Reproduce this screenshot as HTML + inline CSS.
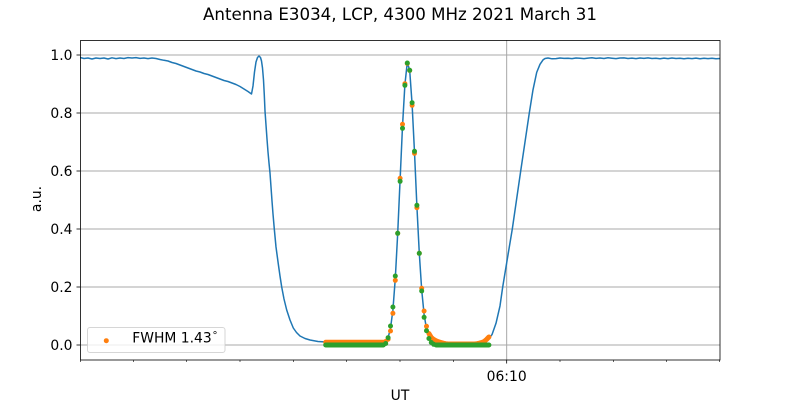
<!DOCTYPE html>
<html>
<head>
<meta charset="utf-8">
<style>
html,body{margin:0;padding:0;background:#fff;}
svg{display:block;}
text{font-family:"DejaVu Sans","Liberation Sans",sans-serif;fill:#000;}
</style>
</head>
<body>
<svg width="800" height="400" viewBox="0 0 800 400" xmlns="http://www.w3.org/2000/svg">
<rect x="0" y="0" width="800" height="400" fill="#fff"/>
<defs><clipPath id="ax"><rect x="80" y="40" width="640" height="320"/></clipPath></defs>

<!-- title -->
<text x="400" y="20" font-size="16.67" text-anchor="middle">Antenna E3034, LCP, 4300 MHz 2021 March 31</text>

<!-- grid -->
<g stroke="#a8a8a8" stroke-width="1">
<line x1="80" y1="345" x2="720" y2="345"/>
<line x1="80" y1="287" x2="720" y2="287"/>
<line x1="80" y1="229" x2="720" y2="229"/>
<line x1="80" y1="171" x2="720" y2="171"/>
<line x1="80" y1="113" x2="720" y2="113"/>
<line x1="80" y1="55" x2="720" y2="55"/>
<line x1="506.67" y1="40" x2="506.67" y2="360"/>
</g>

<g clip-path="url(#ax)">
<!-- blue line -->
<polyline fill="none" stroke="#1f77b4" stroke-width="1.5" stroke-linejoin="round" points="80,57.5 84,58.5 88,58 92,59 96,58 100,58.5 104,58 108,59 112,57.8 116,58.6 120,58 124,58.5 128,57.6 132,58 136,57.6 140,58.4 144,58 148,58.6 152,58 156,58.5 160,59.5 164,60.3 168,61 172,62.5 176,63.5 180,65 184,66.5 188,68 192,69.5 196,71 200,72 204,73.5 208,74.5 212,76 216,77.5 220,79 224,80.5 228,81.5 232,83 236,84.5 240,86.5 244,89 248,91.5 251.5,94 253,86 254.5,72 256,62 257.5,57.5 259,56 260.5,57.5 261.5,61 262.5,68 263.5,80 264.3,95 265,111 266,125 267,139 268,152 269,163 270,173 271,187 272,201 273,214 274.3,229 276,247 278.3,264 280,276 281.7,287 284,299 286.7,310 290,320 293.3,328 296.5,332.5 300,336 305,338.5 310,340 318,341.5 326,342 383.3,342 385.7,341.5 388.1,337.7 390.5,328.2 392.9,310.2 395.3,278.3 397.7,233.4 400.1,179.7 402.5,126.3 404.9,84.6 407.3,62.3 409.7,70.4 412.1,104.3 414.5,152.2 416.9,206.4 419.3,253.4 421.7,289.9 424.1,314.5 426.5,328.8 428.9,336.3 431.3,339.8 436.1,342.1 442,343.3 450,343.6 470,343.6 480,343.3 484,342 488,339.8 492,334.6 496,323.3 500,305.9 502.7,287 507,260.9 512.3,229 516.5,200 520.7,171 525,142 529.3,113 533,89.8 536.7,72.4 540,64.3 543,59.9 545,58.5 548,58 552,58.8 556,58.6 560,58 564,58.4 568,58.2 572,58.6 576,58 580,58.3 584,58.6 588,58.1 592,57.8 596,58.4 600,58 604,58.5 608,57.8 612,58.2 616,58.6 620,58 624,57.9 628,58.5 632,58.1 636,58.6 640,58 644,58.4 648,57.9 652,58.5 656,58.2 660,58.7 664,58.1 668,58.6 672,58 676,58.5 680,58.2 684,58.8 688,58.3 692,58.6 696,58.1 700,58.7 704,58.3 708,58.6 712,58.2 716,58.8 720,58.5"/>

<!-- orange points -->
<g fill="#ff7f0e">
<line x1="325.7" y1="342.3" x2="383.3" y2="342.3" stroke="#ff7f0e" stroke-width="5" stroke-linecap="round"/>
<polyline fill="none" stroke="#ff7f0e" stroke-width="5" stroke-linecap="round" stroke-linejoin="round" points="428.9,333.5 431.3,337.5 433.7,339.5 436.1,340.8 438.5,341.8 440.9,342.5 443.3,343.2 445.7,343.7 448.1,344 474.5,344 476.9,343.7 479.3,343.2 481.7,342.5 484.1,341.5 486.5,339.5 488.9,337"/>
<circle cx="385.7" cy="341.5" r="2.5"/>
<circle cx="388.1" cy="339.2" r="2.5"/>
<circle cx="390.5" cy="331" r="2.5"/>
<circle cx="392.9" cy="313.3" r="2.5"/>
<circle cx="395.3" cy="280.3" r="2.5"/>
<circle cx="397.7" cy="233.3" r="2.5"/>
<circle cx="400.1" cy="178.3" r="2.5"/>
<circle cx="402.5" cy="124.3" r="2.5"/>
<circle cx="404.9" cy="83.7" r="2.5"/>
<circle cx="407.3" cy="63.5" r="2.5"/>
<circle cx="409.7" cy="70.5" r="2.5"/>
<circle cx="412.1" cy="105.3" r="2.5"/>
<circle cx="414.5" cy="153.3" r="2.5"/>
<circle cx="416.9" cy="207.7" r="2.5"/>
<circle cx="419.3" cy="253.3" r="2.5"/>
<circle cx="421.7" cy="288.3" r="2.5"/>
<circle cx="424.1" cy="311" r="2.5"/>
<circle cx="426.5" cy="326.3" r="2.5"/>
</g>

<!-- green points -->
<g fill="#2ca02c">
<line x1="325.7" y1="345" x2="383.3" y2="345" stroke="#2ca02c" stroke-width="5" stroke-linecap="round"/>
<line x1="436.1" y1="345" x2="488.9" y2="345" stroke="#2ca02c" stroke-width="5" stroke-linecap="round"/>
<circle cx="385.7" cy="343.5" r="2.5"/>
<circle cx="388.1" cy="337.7" r="2.5"/>
<circle cx="390.5" cy="326" r="2.5"/>
<circle cx="392.9" cy="307" r="2.5"/>
<circle cx="395.3" cy="276" r="2.5"/>
<circle cx="397.7" cy="233.3" r="2.5"/>
<circle cx="400.1" cy="181.3" r="2.5"/>
<circle cx="402.5" cy="128.3" r="2.5"/>
<circle cx="404.9" cy="85.3" r="2.5"/>
<circle cx="407.3" cy="63" r="2.5"/>
<circle cx="409.7" cy="70.3" r="2.5"/>
<circle cx="412.1" cy="102.7" r="2.5"/>
<circle cx="414.5" cy="151.3" r="2.5"/>
<circle cx="416.9" cy="205.3" r="2.5"/>
<circle cx="419.3" cy="253.3" r="2.5"/>
<circle cx="421.7" cy="291" r="2.5"/>
<circle cx="424.1" cy="317.3" r="2.5"/>
<circle cx="426.5" cy="330.7" r="2.5"/>
<circle cx="428.9" cy="338.5" r="2.5"/>
<circle cx="431.3" cy="342.5" r="2.5"/>
<circle cx="433.7" cy="344.3" r="2.5"/>
</g>
</g>

<!-- spines -->
<rect x="80.5" y="40.5" width="639.5" height="319.5" fill="none" stroke="#000" stroke-width="0.8"/>

<!-- y ticks -->
<g stroke="#000" stroke-width="0.8">
<line x1="76.5" y1="345" x2="80" y2="345"/>
<line x1="76.5" y1="287" x2="80" y2="287"/>
<line x1="76.5" y1="229" x2="80" y2="229"/>
<line x1="76.5" y1="171" x2="80" y2="171"/>
<line x1="76.5" y1="113" x2="80" y2="113"/>
<line x1="76.5" y1="55" x2="80" y2="55"/>
</g>
<g font-size="13.89" text-anchor="end">
<text x="72.5" y="350">0.0</text>
<text x="72.5" y="292">0.2</text>
<text x="72.5" y="234">0.4</text>
<text x="72.5" y="176">0.6</text>
<text x="72.5" y="118">0.8</text>
<text x="72.5" y="60">1.0</text>
</g>

<!-- x ticks -->
<g stroke="#000" stroke-width="0.6">
<line x1="80.5" y1="360" x2="80.5" y2="362"/>
<line x1="133.3" y1="360" x2="133.3" y2="362"/>
<line x1="186.7" y1="360" x2="186.7" y2="362"/>
<line x1="240" y1="360" x2="240" y2="362"/>
<line x1="293.3" y1="360" x2="293.3" y2="362"/>
<line x1="346.7" y1="360" x2="346.7" y2="362"/>
<line x1="400" y1="360" x2="400" y2="362"/>
<line x1="453.3" y1="360" x2="453.3" y2="362"/>
<line x1="560" y1="360" x2="560" y2="362"/>
<line x1="613.3" y1="360" x2="613.3" y2="362"/>
<line x1="666.7" y1="360" x2="666.7" y2="362"/>
<line x1="719.6" y1="360" x2="719.6" y2="362"/>
</g>
<line x1="506.67" y1="360" x2="506.67" y2="363.5" stroke="#000" stroke-width="0.8"/>
<text x="506.67" y="381" font-size="13.89" text-anchor="middle">06:10</text>

<!-- axis labels -->
<text x="400" y="400" font-size="13.89" text-anchor="middle">UT</text>
<text transform="translate(41,199) rotate(-90)" x="0" y="0" font-size="13.89" text-anchor="middle">a.u.</text>

<!-- legend -->
<rect x="87.5" y="327.5" width="137.5" height="25" rx="2.5" ry="2.5" fill="#fff" fill-opacity="0.8" stroke="#cccccc" stroke-opacity="0.8" stroke-width="1"/>
<circle cx="106.3" cy="340.7" r="2.5" fill="#ff7f0e"/>
<text x="132.3" y="342.7" font-size="13.89">FWHM 1.43</text>
<text x="212.5" y="338.5" font-size="10">°</text>
</svg>
</body>
</html>
